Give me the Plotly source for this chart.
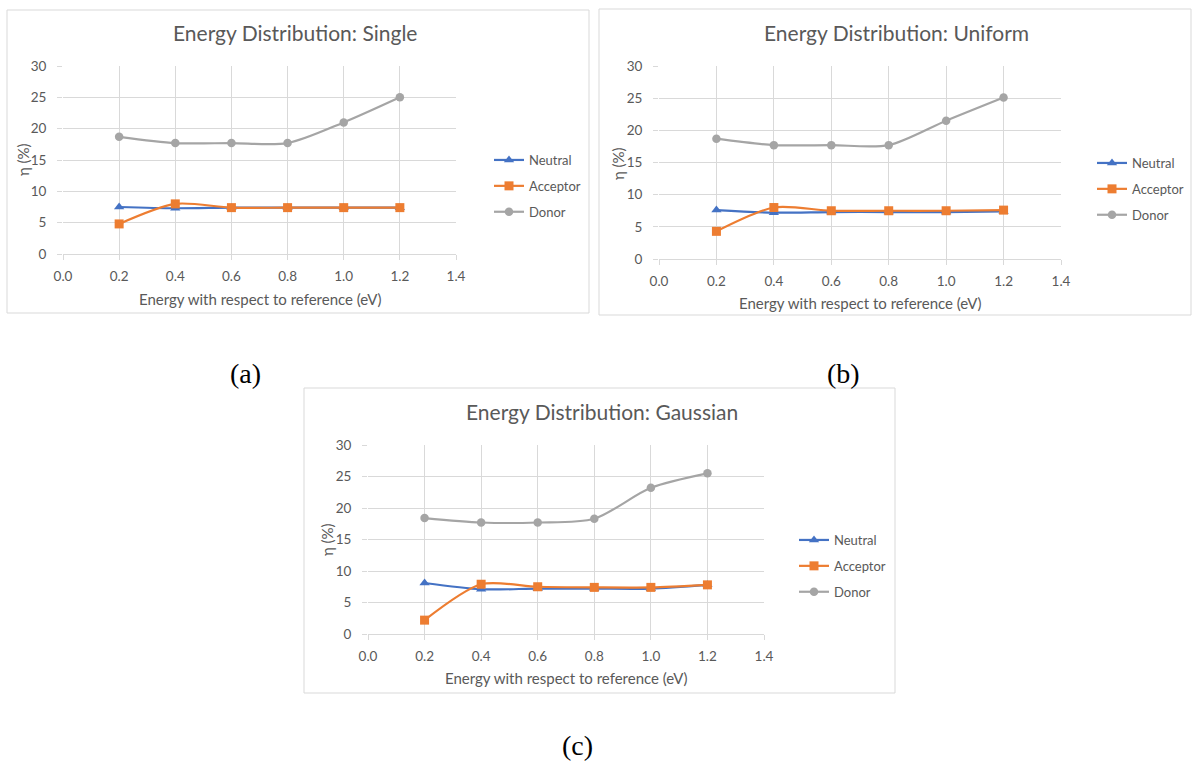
import plotly.graph_objects as go

# ---- data ----
energy = [0.2, 0.4, 0.6, 0.8, 1.0, 1.2]
series_names = ["Neutral", "Acceptor", "Donor"]

single_neutral = [7.5, 7.3, 7.4, 7.4, 7.4, 7.4]
single_acceptor = [4.8, 8.0, 7.4, 7.4, 7.4, 7.4]
single_donor = [18.7, 17.7, 17.7, 17.7, 21.0, 25.0]

uniform_neutral = [7.6, 7.2, 7.3, 7.3, 7.3, 7.4]
uniform_acceptor = [4.3, 8.0, 7.5, 7.5, 7.5, 7.6]
uniform_donor = [18.7, 17.7, 17.7, 17.7, 21.5, 25.1]

gauss_neutral = [8.1, 7.1, 7.2, 7.2, 7.2, 7.8]
gauss_acceptor = [2.2, 7.9, 7.5, 7.4, 7.4, 7.8]
gauss_donor = [18.4, 17.7, 17.7, 18.3, 23.2, 25.5]

panel_titles = ["Energy Distribution: Single", "Energy Distribution: Uniform",
                "Energy Distribution: Gaussian"]
panel_letters = ["(a)", "(b)", "(c)"]
x_title = "Energy with respect to reference (eV)"
y_title = "η (%)"
x_ticks = [0.0, 0.2, 0.4, 0.6, 0.8, 1.0, 1.2, 1.4]
y_ticks = [0, 5, 10, 15, 20, 25, 30]

panels = [
    [single_neutral, single_acceptor, single_donor],
    [uniform_neutral, uniform_acceptor, uniform_donor],
    [gauss_neutral, gauss_acceptor, gauss_donor],
]

# ---- styling / layout (pixels) ----
W, H = 1192, 764
colors = ["#4472C4", "#ED7D31", "#A5A5A5"]
symbols = ["triangle-up", "square", "circle"]
msizes = [9, 9, 8.5]
FONT = "Lato"
TXT = "#595959"
GRID = "#d9d9d9"

# plot areas: (x0, x1, ytop, ybottom)
plot_px = [(63, 456, 66, 254), (659, 1061, 66, 259), (368, 764, 445, 634)]
box_px = [(7, 589, 10, 313), (599, 1191, 9, 315), (304, 895, 388, 693)]
legend_px = [(489, 145), (1092, 148), (794, 525)]
title_px = [(295, 33), (896, 33), (602, 412)]
xt_px = [(260, 299), (860, 303), (566, 678)]
yt_px = [(23, 160), (618, 163), (327, 540)]
letter_px = [(245, 373), (843, 373), (577, 745)]


def fx(p):
    return p / W


def fy(p):
    return 1 - p / H


fig = go.Figure()
layout = dict(
    width=W, height=H, autosize=False,
    margin=dict(l=0, r=0, t=0, b=0, pad=0, autoexpand=False),
    paper_bgcolor="white", plot_bgcolor="white",
    font=dict(family=FONT, color=TXT, size=13),
    shapes=[], annotations=[],
)

for i, vals in enumerate(panels):
    n = "" if i == 0 else str(i + 1)
    leg = "legend" if i == 0 else f"legend{i + 1}"
    for j, name in enumerate(series_names):
        fig.add_trace(go.Scatter(
            x=energy, y=vals[j], name=name, mode="lines+markers",
            line=dict(color=colors[j], width=2.2, shape="spline", smoothing=0.8),
            marker=dict(symbol=symbols[j], size=msizes[j], color=colors[j]),
            xaxis="x" + n, yaxis="y" + n, legend=leg, legendgroup=f"g{i}{j}",
            showlegend=True,
        ))
    x0, x1, yt, yb = plot_px[i]
    layout["xaxis" + n] = dict(
        domain=[fx(x0), fx(x1)], range=[0, 1.4], anchor="y" + n,
        tickvals=x_ticks, ticktext=[f"{v:.1f}" for v in x_ticks],
        showgrid=True, gridcolor=GRID, gridwidth=1,
        showline=True, linecolor=GRID, linewidth=1,
        ticks="outside", ticklen=5, tickcolor=GRID, ticklabelstandoff=5,
        zeroline=False, tickfont=dict(size=13.5, color=TXT, family=FONT),
        fixedrange=True, automargin=False,
    )
    layout["yaxis" + n] = dict(
        domain=[fy(yb), fy(yt)], range=[0, 30], anchor="x" + n,
        tickvals=y_ticks, showgrid=True, gridcolor=GRID, gridwidth=1,
        showline=False, ticks="outside", ticklen=5, tickcolor=GRID,
        ticklabelstandoff=8,
        zeroline=False, tickfont=dict(size=13.5, color=TXT, family=FONT),
        fixedrange=True, automargin=False,
    )
    lx, ly = legend_px[i]
    layout[leg] = dict(
        x=fx(lx), y=fy(ly), xanchor="left", yanchor="top",
        font=dict(size=13, color=TXT, family=FONT),
        bgcolor="rgba(0,0,0,0)", tracegroupgap=6, itemwidth=30,
    )
    bx0, bx1, by0, by1 = box_px[i]
    layout["shapes"].append(dict(
        type="rect", xref="paper", yref="paper",
        x0=fx(bx0), x1=fx(bx1), y0=fy(by1), y1=fy(by0),
        line=dict(color=GRID, width=1), fillcolor="rgba(0,0,0,0)", layer="below",
    ))
    tx, ty = title_px[i]
    layout["annotations"].append(dict(
        text=panel_titles[i], x=fx(tx), y=fy(ty), xref="paper", yref="paper",
        showarrow=False, xanchor="center", yanchor="middle",
        font=dict(size=21, color=TXT, family=FONT),
    ))
    ax, ay = xt_px[i]
    layout["annotations"].append(dict(
        text=x_title, x=fx(ax), y=fy(ay), xref="paper", yref="paper",
        showarrow=False, xanchor="center", yanchor="middle",
        font=dict(size=15, color=TXT, family=FONT),
    ))
    yx, yy = yt_px[i]
    layout["annotations"].append(dict(
        text=y_title, x=fx(yx), y=fy(yy), xref="paper", yref="paper",
        showarrow=False, xanchor="center", yanchor="middle", textangle=-90,
        font=dict(size=15, color=TXT, family=FONT),
    ))
    lx2, ly2 = letter_px[i]
    layout["annotations"].append(dict(
        text=panel_letters[i], x=fx(lx2), y=fy(ly2), xref="paper", yref="paper",
        showarrow=False, xanchor="center", yanchor="middle",
        font=dict(size=28, color="black", family="Liberation Serif"),
    ))

fig.update_layout(**layout)
fig.write_html(
    "out.html",
    config={"displayModeBar": False},
    post_script="document.body.style.margin='0px';document.body.style.overflow='hidden';",
)
